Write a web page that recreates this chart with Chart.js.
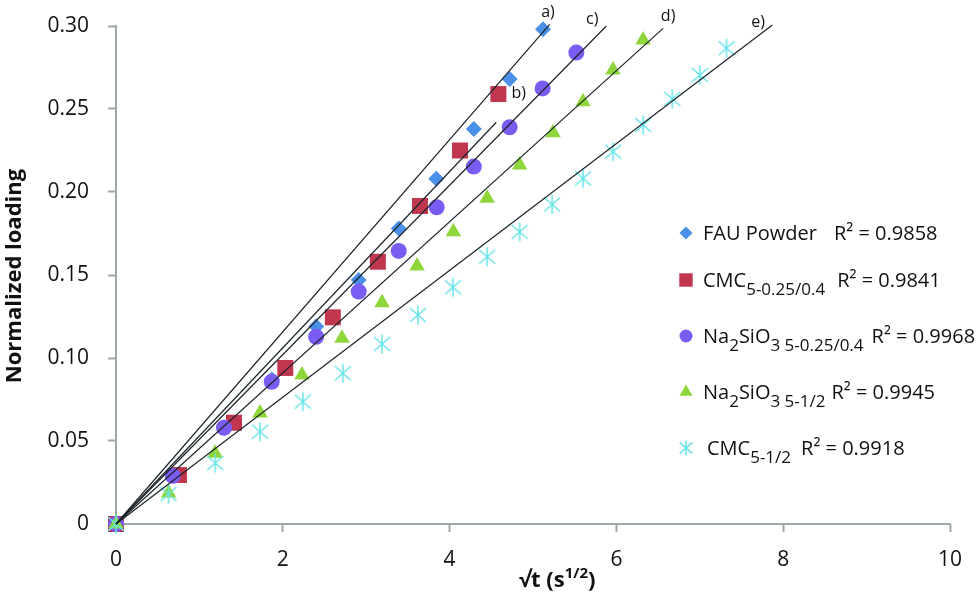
<!DOCTYPE html>
<html>
<head>
<meta charset="utf-8">
<script src="https://cdn.jsdelivr.net/npm/chart.js@4.4.0/dist/chart.umd.min.js"></script>
<style>
  html, body { margin: 0; padding: 0; background: #fff; }
  #wrap { width: 980px; height: 597px; }
</style>
</head>
<body>
<div id="wrap"><canvas id="chart" width="980" height="597"></canvas></div>
<script>
// values: x = sqrt(t) (s^1/2), y = normalized loading
const fauX = [0, 0.70, 1.30, 1.87, 2.40, 2.91, 3.39, 3.84, 4.29, 4.72, 5.12];
const fauY = [0, 0.029, 0.058, 0.087, 0.119, 0.147, 0.178, 0.208, 0.238, 0.268, 0.298];

const cmcAX = [0, 0.755, 1.415, 2.03, 2.60, 3.14, 3.645, 4.125, 4.585];
const cmcAY = [0, 0.0295, 0.061, 0.094, 0.1245, 0.158, 0.1916, 0.225, 0.259];

const naAX = [0, 0.68, 1.295, 1.867, 2.40, 2.91, 3.39, 3.845, 4.29, 4.72, 5.115, 5.52];
const naAY = [0, 0.029, 0.058, 0.0857, 0.1128, 0.140, 0.1645, 0.1908, 0.2153, 0.239, 0.2624, 0.284];

const naBX = [0, 0.63, 1.187, 1.727, 2.23, 2.71, 3.19, 3.61, 4.045, 4.45, 4.84, 5.24, 5.60, 5.96, 6.32];
const naBY = [0, 0.0187, 0.0426, 0.0668, 0.0898, 0.1119, 0.1333, 0.1554, 0.176, 0.1962, 0.2163, 0.2357, 0.2544, 0.2735, 0.2916];

const cmcBX = [0, 0.63, 1.19, 1.727, 2.24, 2.72, 3.19, 3.62, 4.04, 4.45, 4.84, 5.23, 5.60, 5.96, 6.32, 6.67, 7.00, 7.32];
const cmcBY = [0, 0.018, 0.0367, 0.0556, 0.0737, 0.0908, 0.1084, 0.1259, 0.1426, 0.161, 0.176, 0.1925, 0.2082, 0.2243, 0.2404, 0.256, 0.2705, 0.2866];

// linear trendlines (through origin) and their letters
const trendNames = ['a)', 'b)', 'c)', 'd)', 'e)'];
const trendEndX = [5.20, 4.56, 5.88, 6.56, 7.87];
const trendEndY = [0.301, 0.242, 0.300, 0.2986, 0.3006];
const trendLabelX = [5.18, 4.83, 5.71, 6.62, 7.70];
const trendLabelY = [0.308, 0.2596, 0.304, 0.306, 0.302];

// legend text: [text, 'sub'] pieces, then R²
const legendParts = [
  [['FAU Powder']],
  [['CMC'], ['5-0.25/0.4', 'sub']],
  [['Na'], ['2', 'sub'], ['SiO'], ['3 5-0.25/0.4', 'sub']],
  [['Na'], ['2', 'sub'], ['SiO'], ['3 5-1/2', 'sub']],
  [['CMC'], ['5-1/2', 'sub']]
];
const r2Values = ['0.9858', '0.9841', '0.9968', '0.9945', '0.9918'];

const xTicks = [0, 2, 4, 6, 8, 10];
const yTicks = [0, 0.05, 0.10, 0.15, 0.20, 0.25, 0.30];

const FONT = '"Open Sans", sans-serif';
const axisColor = '#9ea7aa';
const colors = ['#4a8fe8', '#c0364e', '#7a5cf2', '#8fd63a', '#66e4e8'];

Chart.defaults.font.family = FONT;

function makeAsterisk(color, scale) {
  const c = document.createElement('canvas');
  c.width = 22; c.height = 22;
  const g = c.getContext('2d');
  g.strokeStyle = color;
  g.lineWidth = 1.5;
  const m = 11, hx = 8 * scale, hy = 7 * scale, hv = 9.5 * scale;
  g.beginPath();
  g.moveTo(m - hx, m - hy); g.lineTo(m + hx, m + hy);
  g.moveTo(m - hx, m + hy); g.lineTo(m + hx, m - hy);
  g.moveTo(m, m - hv); g.lineTo(m, m + hv);
  g.stroke();
  return c;
}
const asterisk = makeAsterisk(colors[4], 1);
const asteriskSmall = makeAsterisk(colors[4], 0.8);

const pts = (xs, ys) => xs.map((x, i) => ({ x: x, y: ys[i] }));

const markerSets = [
  { data: pts(fauX, fauY), style: 'rectRot', r: 8, order: 10 },
  { data: pts(cmcAX, cmcAY), style: 'rect', r: 11.3, order: 9 },
  { data: pts(naAX, naAY), style: 'circle', r: 8, order: 8 },
  { data: pts(naBX, naBY), style: 'triangle', r: 9, order: 7 },
  { data: pts(cmcBX, cmcBY), style: asterisk, r: 9, order: 6 }
];

const datasets = markerSets.map((m, i) => ({
  data: m.data,
  showLine: false,
  pointStyle: m.style,
  pointRadius: m.r,
  pointHoverRadius: m.r,
  pointBackgroundColor: colors[i],
  pointBorderWidth: 0,
  pointBorderColor: colors[i],
  order: m.order,
  clip: false
}));

trendNames.forEach((n, i) => {
  datasets.push({
    data: [{ x: 0, y: 0 }, { x: trendEndX[i], y: trendEndY[i] }],
    showLine: true,
    borderColor: '#1b2428',
    borderWidth: 1.2,
    pointRadius: 0,
    order: 1,
    clip: false
  });
});

function drawMarker(ctx, i, x, y) {
  ctx.save();
  ctx.fillStyle = colors[i];
  const styles = ['rectRot', 'rect', 'circle', 'triangle', asteriskSmall];
  const radii = [6.5, 9.5, 6.5, 7.5, 8];
  Chart.helpers.drawPoint(ctx, { pointStyle: styles[i], radius: radii[i], borderWidth: 0, rotation: 0 }, x, y);
  ctx.restore();
}

const textPlugin = {
  id: 'texts',
  afterDraw(chart) {
    const ctx = chart.ctx;
    const xs = chart.scales.x, ys = chart.scales.y;
    ctx.save();
    ctx.fillStyle = '#111';

    // trendline letters
    ctx.font = '16px ' + FONT;
    ctx.textAlign = 'center';
    ctx.textBaseline = 'middle';
    trendNames.forEach((n, i) => {
      ctx.fillText(n, xs.getPixelForValue(trendLabelX[i]), ys.getPixelForValue(trendLabelY[i]));
    });

    // y title
    ctx.save();
    ctx.translate(15, 276);
    ctx.rotate(-Math.PI / 2);
    ctx.font = 'bold 22px ' + FONT;
    ctx.fillText('Normalized loading', 0, 0);
    ctx.restore();

    // x title with superscript
    ctx.textAlign = 'left';
    ctx.textBaseline = 'alphabetic';
    let tx = 519;
    ctx.font = 'bold 22px ' + FONT;
    ctx.fillText('√t (s', tx, 587);
    tx += ctx.measureText('√t (s').width;
    ctx.font = 'bold 15px ' + FONT;
    ctx.fillText('1/2', tx, 578);
    tx += ctx.measureText('1/2').width;
    ctx.font = 'bold 22px ' + FONT;
    ctx.fillText(')', tx, 587);

    // legend
    const rowY = [233, 280, 336, 392, 448];
    const startX = [703, 703, 703, 703, 707];
    const gaps = [17, 12, 8, 6, 10];
    rowY.forEach((ry, i) => {
      drawMarker(ctx, i, 686, ry);
      ctx.fillStyle = '#111';
      let x = startX[i];
      const base = ry + 6.5;
      legendParts[i].forEach(p => {
        const sub = p[1] === 'sub';
        ctx.font = (sub ? 17 : 20) + 'px ' + FONT;
        ctx.fillText(p[0], x, sub ? base + 8 : base);
        x += ctx.measureText(p[0]).width;
      });
      x += gaps[i];
      ctx.font = '20px ' + FONT;
      ctx.fillText('R² = ' + r2Values[i], x, base);
    });
    ctx.restore();
  }
};

new Chart(document.getElementById('chart'), {
  type: 'scatter',
  data: { datasets: datasets },
  options: {
    responsive: false,
    animation: false,
    events: [],
    layout: { padding: { left: 0, right: 30, top: 26, bottom: 0 } },
    plugins: { legend: { display: false }, tooltip: { enabled: false } },
    scales: {
      x: {
        type: 'linear',
        min: 0, max: 10,
        afterFit: s => { s.height = 73; },
        afterBuildTicks: s => { s.ticks = xTicks.map(v => ({ value: v })); },
        ticks: { font: { size: 21 }, color: '#111', padding: 15, maxRotation: 0,
                 callback: v => String(v) },
        grid: { drawOnChartArea: false, drawTicks: true, tickLength: 8, tickColor: axisColor, tickWidth: 2 },
        border: { display: true, color: axisColor, width: 2 }
      },
      y: {
        type: 'linear',
        min: 0, max: 0.30,
        afterFit: s => { s.width = 116; },
        afterBuildTicks: s => { s.ticks = yTicks.map(v => ({ value: v })); },
        ticks: { font: { size: 21, lineHeight: 0.5 }, color: '#111', padding: 19,
                 callback: v => v === 0 ? '0' : v.toFixed(2) },
        grid: { drawOnChartArea: false, drawTicks: true, tickLength: 8, tickColor: axisColor, tickWidth: 2 },
        border: { display: true, color: axisColor, width: 2 }
      }
    }
  },
  plugins: [textPlugin]
});
</script>
</body>
</html>
